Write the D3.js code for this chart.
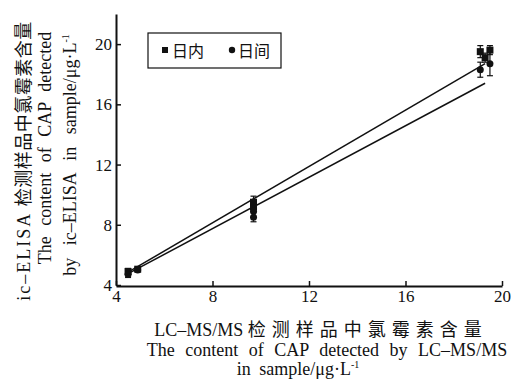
<!DOCTYPE html>
<html>
<head>
<meta charset="utf-8">
<script src="https://cdn.jsdelivr.net/npm/d3@7"></script>
<style>
  body { margin: 0; background: #fff; }
  svg text { font-family: "Liberation Serif", "Times New Roman", "DejaVu Serif", "Noto Sans CJK SC", serif !important; fill: #111; }
</style>
</head>
<body>
<svg width="515" height="391"></svg>
<script>
//Tick values of both axes
const xTicks = [4, 8, 12, 16, 20];
const yTicks = [4, 8, 12, 16, 20];
//日内 (intra-day) points, square markers
const intraX = [4.5, 4.9, 9.7, 9.7, 19.1, 19.5, 19.3];
const intraY = [4.9, 5.05, 9.5, 9.2, 19.5, 19.6, 19.1];
const intraErr = [0.2, 0.12, 0.4, 0.3, 0.4, 0.3, 0.3];
//日间 (inter-day) points, circle markers
const interX = [4.5, 4.9, 9.7, 9.7, 19.1, 19.5];
const interY = [4.7, 5.0, 8.9, 8.5, 18.3, 18.7];
const interErr = [0.2, 0.1, 0.4, 0.3, 0.5, 0.8];
//Fitted lines
const fitX = [4.5, 19.3];
const intraFit = [4.85, 18.7];
const interFit = [4.75, 17.4];
//Legend labels
const legendLabels = ["日内", "日间"];

let svg = d3.select("svg");

let x = d3.scaleLinear().domain([4, 20]).range([116, 502]);
let y = d3.scaleLinear().domain([4, 22]).range([285, 14]);

//Axes with inward ticks
svg.append("g")
   .attr("transform", "translate(0,286)")
   .call(d3.axisBottom(x).tickValues(xTicks).tickSizeInner(-5).tickSizeOuter(0).tickPadding(4))
   .call(g => g.selectAll("text").style("font-size", "17px"));

svg.append("g")
   .attr("transform", "translate(116,0)")
   .call(d3.axisLeft(y).tickValues(yTicks).tickSizeInner(-5).tickSizeOuter(0).tickPadding(4))
   .call(g => g.selectAll("text").style("font-size", "17px"));

svg.selectAll(".domain").attr("stroke", "#111").attr("stroke-width", 2);
svg.selectAll(".tick line").attr("stroke", "#111").attr("stroke-width", 1.5);

//Fitted lines
let line = d3.line().x(d => x(d[0])).y(d => y(d[1]));
[intraFit, interFit].forEach(function(fit){
  svg.append("path")
     .attr("d", line(fitX.map((v, i) => [v, fit[i]])))
     .attr("fill", "none")
     .attr("stroke", "#111")
     .attr("stroke-width", 1.5);
});

//Error bars and markers
function drawSeries(xs, ys, errs, shape){
  xs.forEach(function(xv, i){
    let cx = x(xv), top = y(ys[i] + errs[i]), bot = y(ys[i] - errs[i]);
    let g = svg.append("g").attr("stroke", "#111").attr("stroke-width", 1.2);
    g.append("line").attr("x1", cx).attr("x2", cx).attr("y1", top).attr("y2", bot);
    g.append("line").attr("x1", cx - 3).attr("x2", cx + 3).attr("y1", top).attr("y2", top);
    g.append("line").attr("x1", cx - 3).attr("x2", cx + 3).attr("y1", bot).attr("y2", bot);
    if(shape == "square"){
      svg.append("rect").attr("x", cx - 3.5).attr("y", y(ys[i]) - 3.5)
         .attr("width", 7).attr("height", 7).attr("fill", "#111");
    } else {
      svg.append("circle").attr("cx", cx).attr("cy", y(ys[i])).attr("r", 3.5).attr("fill", "#111");
    }
  });
}
drawSeries(intraX, intraY, intraErr, "square");
drawSeries(interX, interY, interErr, "circle");

//Legend
svg.append("rect")
   .attr("x", 148).attr("y", 33).attr("width", 133).attr("height", 35)
   .attr("fill", "#fff").attr("stroke", "#111").attr("stroke-width", 1.2);
svg.append("rect").attr("x", 162).attr("y", 47).attr("width", 6).attr("height", 6).attr("fill", "#111");
svg.append("text").attr("x", 172).attr("y", 57).style("font-size", "16px").text(legendLabels[0]);
svg.append("circle").attr("cx", 232).attr("cy", 50).attr("r", 3.2).attr("fill", "#111");
svg.append("text").attr("x", 238).attr("y", 57).style("font-size", "16px").text(legendLabels[1]);

//Writes a title line made of parts, each with its own spacing, plus optional superscript
function titleLine(sel, parts, sup){
  parts.forEach(function(p){
    sel.append("tspan")
       .style("letter-spacing", (p.ls || 0) + "px")
       .style("word-spacing", (p.ws || 0) + "px")
       .text(p.t);
  });
  if(sup){
    sel.append("tspan").attr("dy", -7).style("font-size", "10px").text(sup);
  }
}

//X axis title, centred lines
let t1 = svg.append("text").attr("x", 321).attr("y", 336).attr("text-anchor", "middle").style("font-size", "18px");
titleLine(t1, [{t: "LC–MS/MS "}, {t: "检测样品中氯霉素含量", ls: 6}]);
let t2 = svg.append("text").attr("x", 327).attr("y", 356).attr("text-anchor", "middle").style("font-size", "18px");
titleLine(t2, [{t: "The content of CAP detected by LC–MS/MS", ws: 6}]);
let t3 = svg.append("text").attr("x", 298).attr("y", 375).attr("text-anchor", "middle").style("font-size", "18px");
titleLine(t3, [{t: "in sample/μg·L", ws: 4}], "-1");

//Y axis title (rotated)
let yTitle = [
  {parts: [{t: "ic–ELISA ", ls: 2}, {t: "检测样品中氯霉素含量", ls: 0.5}], cy: 161, x: 30},
  {parts: [{t: "The content of CAP detected", ws: 6}], cy: 148, x: 51},
  {parts: [{t: "by ic–ELISA in sample/μg·L", ws: 8}], cy: 155, x: 76, sup: "-1"}
];
yTitle.forEach(function(d){
  let t = svg.append("text")
     .attr("transform", "translate(" + d.x + "," + d.cy + ") rotate(-90)")
     .attr("text-anchor", "middle")
     .style("font-size", "18px");
  titleLine(t, d.parts, d.sup);
});
</script>
</body>
</html>
